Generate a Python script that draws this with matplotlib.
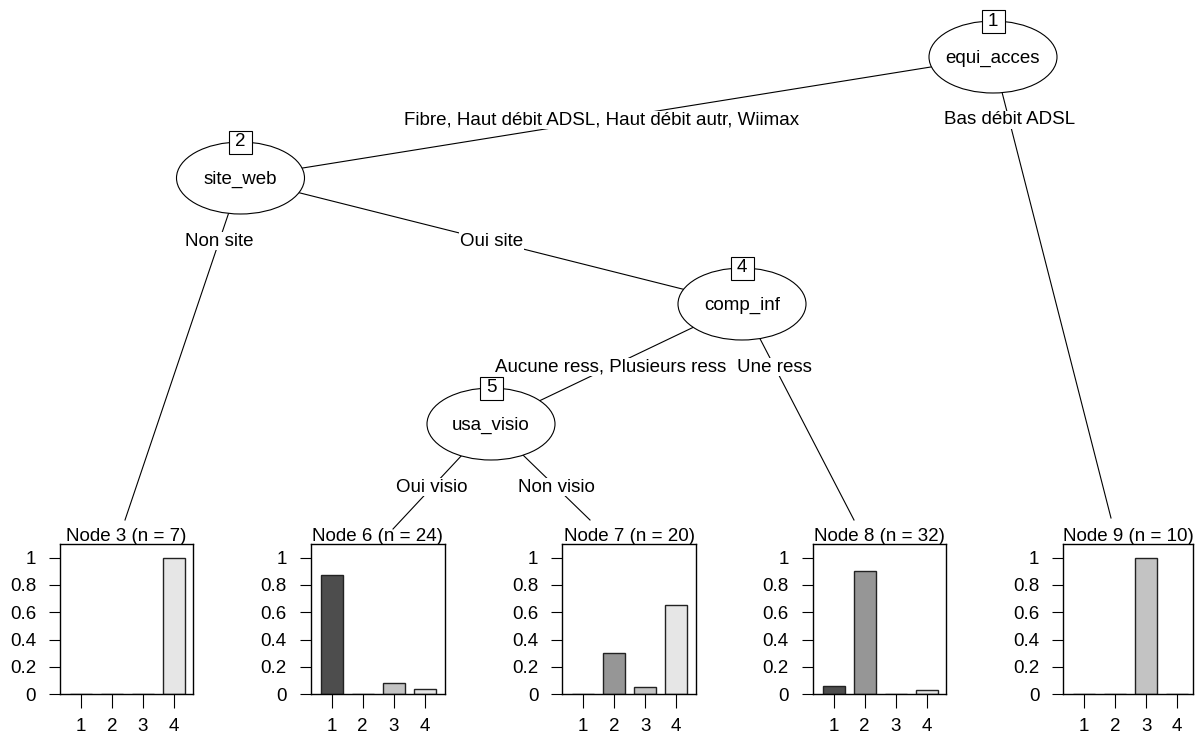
import matplotlib
matplotlib.use('Agg')
import matplotlib.pyplot as plt
from matplotlib.patches import Ellipse, Rectangle

plt.rcParams['font.family'] = ['Liberation Sans', 'DejaVu Sans']
FS = 13.5

# ---------------- data ----------------
inner_ids = [1, 2, 4, 5]
inner_vars = ['equi_acces', 'site_web', 'comp_inf', 'usa_visio']

edge_parent = [1, 1, 2, 2, 4, 4, 5, 5]
edge_child = [2, 9, 3, 4, 5, 8, 6, 7]
edge_labels = ['Fibre, Haut débit ADSL, Haut débit autr, Wiimax',
               'Bas débit ADSL',
               'Non site', 'Oui site',
               'Aucune ress, Plusieurs ress', 'Une ress',
               'Oui visio', 'Non visio']

terminal_ids = [3, 6, 7, 8, 9]
terminal_n = [7, 24, 20, 32, 10]
class_labels = ['1', '2', '3', '4']
prop_node3 = [0.0, 0.0, 0.0, 1.0]
prop_node6 = [0.875, 0.0, 0.083, 0.042]
prop_node7 = [0.0, 0.30, 0.05, 0.65]
prop_node8 = [0.0625, 0.906, 0.0, 0.031]
prop_node9 = [0.0, 0.0, 1.0, 0.0]
terminal_props = [prop_node3, prop_node6, prop_node7, prop_node8, prop_node9]
y_ticks = [0, 0.2, 0.4, 0.6, 0.8, 1]
y_ticklabels = ['0', '0.2', '0.4', '0.6', '0.8', '1']

# ---------------- layout (pixels) ----------------
W, H = 1200, 738
node_xy = {1: (993, 57), 2: (240.5, 178), 4: (742, 304), 5: (491, 424)}
ell_w, ell_h = 128, 72
term_anchor = {3: (125, 520), 6: (393, 529), 7: (590, 520), 8: (854, 520), 9: (1111, 518)}
panel_x = {3: (60, 193.3), 6: (310.7, 444.5), 7: (562.3, 695.7), 8: (812.7, 946), 9: (1063.3, 1192.7)}
panel_top, panel_bot = 544, 694.3
label_off = 63
bar_colors = ['#4D4D4D', '#969696', '#C3C3C3', '#E6E6E6']

fig = plt.figure(figsize=(W / 100, H / 100), dpi=100)
ax = fig.add_axes([0, 0, 1, 1])
ax.set_xlim(0, W)
ax.set_ylim(H, 0)
ax.axis('off')

def pos(n):
    return node_xy[n] if n in node_xy else term_anchor[n]

# edges
for p, c, lab in zip(edge_parent, edge_child, edge_labels):
    x0, y0 = pos(p)
    x1, y1 = pos(c)
    ax.plot([x0, x1], [y0, y1], color='black', lw=0.8, zorder=1)
    ly = y0 + label_off
    lx = x0 + (x1 - x0) * (ly - y0) / (y1 - y0)
    ax.text(lx, ly, lab, fontsize=FS, ha='center', va='center', zorder=3,
            bbox=dict(facecolor='white', edgecolor='none', pad=0.5))

# inner nodes
for nid, var in zip(inner_ids, inner_vars):
    x, y = node_xy[nid]
    ax.add_patch(Ellipse((x, y), ell_w, ell_h, facecolor='white', edgecolor='black', lw=0.8, zorder=4))
    ax.text(x, y + 1, var, fontsize=FS, ha='center', va='center', zorder=5)
    bs = 23
    ax.add_patch(Rectangle((x - bs / 2, y - ell_h / 2 - bs / 2), bs, bs, facecolor='white',
                           edgecolor='black', lw=0.8, zorder=6))
    ax.text(x, y - ell_h / 2, str(nid), fontsize=FS, ha='center', va='center', zorder=7)

# terminal panels
for tid, n, props in zip(terminal_ids, terminal_n, terminal_props):
    px0, px1 = panel_x[tid]
    ax.text((px0 + px1) / 2, 541, f'Node {tid} (n = {n})', fontsize=FS, ha='center', va='baseline')
    pax = fig.add_axes([px0 / W, 1 - panel_bot / H, (px1 - px0) / W, (panel_bot - panel_top) / H])
    xs = [1, 2, 3, 4]
    pax.bar(xs, props, width=0.72, color=bar_colors, edgecolor='#222222', linewidth=1.0)
    left = 1 - 21.0 / 31.0
    pax.set_xlim(left, left + (px1 - px0) / 31.0)
    pax.set_ylim(0, 1.1)
    pax.set_xticks(xs)
    pax.set_xticklabels(class_labels)
    pax.set_yticks(y_ticks)
    pax.set_yticklabels(y_ticklabels)
    pax.tick_params(axis='y', length=7.7, width=0.8, pad=9.5, labelsize=FS)
    pax.tick_params(axis='x', length=9.8, width=0.8, pad=7.0, labelsize=FS)
    for s in pax.spines.values():
        s.set_linewidth(1.0)
        s.set_color('black')

fig.savefig('out.png', dpi=100)
